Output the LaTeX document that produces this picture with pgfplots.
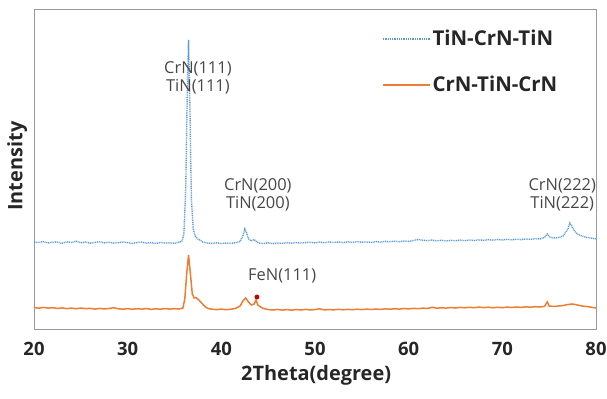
\documentclass[border=0pt]{standalone}
\usepackage{pgfplots}
\pgfplotsset{compat=1.18}
\usepackage{fontspec}
\setmainfont{Open Sans}
\definecolor{cblue}{HTML}{5B9BD5}
\definecolor{corange}{HTML}{ED7D31}
\definecolor{cred}{HTML}{C00000}
\definecolor{ctext}{HTML}{262626}
\begin{document}
\begin{tikzpicture}
\useasboundingbox (-34bp,-70bp) rectangle (573bp,329bp);
\begin{axis}[
  at={(0,0)}, anchor=south west,
  scale only axis, width=562bp, height=320bp,
  xmin=20, xmax=80, ymin=0, ymax=320,
  xtick={20,30,...,80}, ytick=\empty,
  major tick length=0pt,
  axis line style={draw=gray!80, line width=1pt},
  /pgf/number format/assume math mode=true,
  xticklabel style={font=\fontsize{18.5}{20}\selectfont\bfseries, text=ctext, inner sep=0pt, anchor=north, yshift=-13bp},
  clip=false,
  legend style={at={(0.619,0.94)}, anchor=north west, draw=none, fill=none,
    font=\fontsize{20.5}{22}\selectfont\bfseries, text=ctext, row sep=25bp, inner sep=0pt,
    /tikz/every even column/.append style={column sep=6bp}},
  legend cell align=left,
  legend image code/.code={\draw[#1] (0bp,0bp) -- (47bp,0bp);},
]
\addplot[cblue, line width=1.4pt, dash pattern=on 1pt off 0.8pt] table {
20 87
20.5 86.5
21 87.5
21.5 86
22 87
22.5 86.8
23 85.7
23.5 87.2
24 86.5
24.5 87.8
25 86.2
25.5 86.9
26 85.8
26.5 86.6
27 87.3
27.5 86.1
28 86.7
28.5 85.9
29 86.4
29.5 87.1
30 86.3
30.5 85.6
31 86.5
31.5 86.9
32 85.8
32.5 86.4
33 85.5
33.5 86.6
34 85.9
34.5 86.2
35 85.7
35.5 86.8
35.8 88
36.0 95
36.2 140
36.35 230
36.5 289
36.65 220
36.8 130
37.0 100
37.2 93
37.5 90
37.8 88.5
38 87
38.5 86
39 85.5
39.5 86.2
40 85.4
40.5 86
41 85.7
41.5 86.3
42 87.5
42.3 93
42.5 100
42.7 96
42.9 90
43.2 88
43.5 89.5
43.8 87
44 86
44.5 85.5
45 86.2
45.5 85.3
46 86
46.5 85.6
47 86.3
47.5 85.8
48 86.5
48.5 85.9
49 86.4
49.5 86.8
50 86.1
50.5 86.9
51 86.3
51.5 87.1
52 86.5
52.5 87
53 86.4
53.5 87.2
54 86.6
54.5 87.3
55 86.8
55.5 87.1
56 86.5
56.5 87.4
57 86.9
57.5 87.6
58 87.2
58.5 87.8
59 87.3
59.5 88
60 87.6
60.5 88.5
61 89.5
61.5 88.8
62 88.4
62.5 88.9
63 88.2
63.5 88.7
64 88.1
64.5 88.6
65 88.3
65.5 88.9
66 88.4
66.5 89
67 88.5
67.5 89.2
68 88.7
68.5 89.3
69 88.8
69.5 89.5
70 89
70.5 89.6
71 89.2
71.5 89.8
72 89.4
72.5 90
73 89.6
73.5 90.3
74 90
74.5 91.5
74.8 95
75.1 91.5
75.5 91
76 91.5
76.5 93
77 100
77.2 106
77.4 103
77.7 98
78 95
78.5 93
79 91.5
79.5 91
80 90
};
\addlegendentry{TiN-CrN-TiN}
\addplot[corange, line width=1.5pt] table {
20 21.5
20.5 20.8
21 21.6
21.5 20.9
22 21.3
22.5 20.5
23 21.1
23.5 20.4
24 20.9
24.5 20.2
25 21
25.5 20.3
26 20.7
26.5 19.9
27 20.6
27.5 20.1
28 20.5
28.5 21.3
29 20.2
29.5 19.8
30 20.4
30.5 19.7
31 20.3
31.5 19.9
32 20.5
32.5 19.6
33 20.2
33.5 19.8
34 20.4
34.5 19.9
35 20.3
35.5 20
35.9 21
36.1 30
36.3 55
36.5 74
36.7 55
36.9 35
37.1 31
37.3 31.5
37.6 29
38 25
38.3 22
38.6 20.5
39 19.8
39.5 19.4
40 19.9
40.5 19.3
41 19.8
41.5 20.5
42 23
42.3 28
42.6 31
42.9 27
43.2 24
43.5 25
43.7 29
43.9 24
44.2 22
44.5 20.5
45 19.5
45.5 19
46 19.6
46.5 18.9
47 19.4
47.5 18.8
48 19.5
48.5 19
49 19.6
49.5 19.1
50 19.4
50.5 20.2
51 19
51.5 19.5
52 19.1
52.5 19.7
53 19.2
53.5 19.6
54 19.3
54.5 19.8
55 19.4
55.5 19.9
56 19.5
56.5 20
57 19.6
57.5 20.1
58 19.8
58.5 20.3
59 19.9
59.5 20.5
60 20.1
60.5 20.7
61 20.3
61.5 20.9
62 20.5
62.5 21.8
63 20.8
63.5 21.2
64 20.9
64.5 21.5
65 21
65.5 21.6
66 21.2
66.5 21.7
67 21.3
67.5 21.9
68 21.4
68.5 21.8
69 21.2
69.5 21.7
70 21.3
70.5 21.9
71 21.5
71.5 22
72 21.6
72.5 22.2
73 21.8
73.5 22.3
74 22
74.5 22.6
74.8 27
75.0 23
75.5 22.5
76 23
76.5 23.5
77 24.5
77.5 25
78 24
78.5 23
79 22.5
79.5 21.8
80 21
};
\addlegendentry{CrN-TiN-CrN}
\addplot[only marks, mark=*, mark size=2.2pt, cred, forget plot] coordinates {(43.8,32)};
\begin{scope}[every node/.style={font=\fontsize{16.5}{17.5}\selectfont, text=ctext!85, align=center, inner sep=0pt}]
\node at (axis cs:37.5,251) {CrN(111)\\TiN(111)};
\node at (axis cs:43.9,134) {CrN(200)\\TiN(200)};
\node at (axis cs:76.4,134) {CrN(222)\\TiN(222)};
\node at (axis cs:46.5,53) {FeN(111)};
\end{scope}
\node[rotate=90, font=\fontsize{20}{22}\selectfont\bfseries, text=ctext] at (rel axis cs:-0.030,0.509) {Intensity};
\node[font=\fontsize{20}{22}\selectfont\bfseries, text=ctext] at (rel axis cs:0.502,-0.145) {2Theta(degree)};
\end{axis}
\end{tikzpicture}
\end{document}
